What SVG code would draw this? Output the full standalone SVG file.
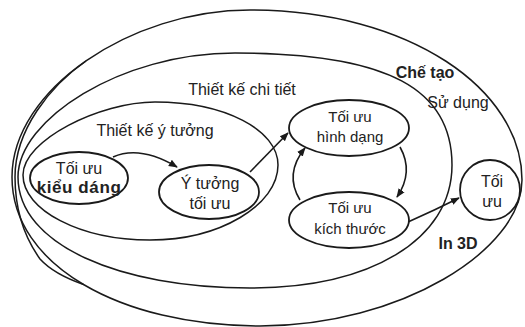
<svg xmlns="http://www.w3.org/2000/svg" width="525" height="327" viewBox="0 0 525 327">
<defs>
<marker id="ah" viewBox="0 0 10 10" refX="9" refY="5" markerWidth="9" markerHeight="9" markerUnits="userSpaceOnUse" orient="auto">
<path d="M0,1 L10,5 L0,9 Z" fill="#1a1a1a"/>
</marker>
</defs>
<style>
.reg{fill:none;stroke:#1a1a1a;stroke-width:1.5}
.node{fill:#fff;stroke:#1a1a1a;stroke-width:1.8}
.t{font-family:"Liberation Sans",Arial,sans-serif;font-size:16px;fill:#222;text-anchor:middle}
.s{font-size:15px}
.b{font-weight:bold}
.c{fill:none;stroke:#1a1a1a;stroke-width:1.6;marker-end:url(#ah)}
</style>
<rect width="525" height="327" fill="#fff"/>
<g id="regions">
<path id="che-tao" class="reg" d="M12,177 C12,90 130,10 250,10 C410,10 522,90 522,180 C522,250 400,326 260,326 C120,326 12,265 12,177 Z"/>
<path id="su-dung" class="reg" d="M86,61 C50,86 15,130 15,177 C15,220 30,245 40,259 C50,270 65,278 83.5,284.5"/>
<path id="thiet-ke-chi-tiet" class="reg" d="M18,177 C18,120 120,53 235,53 C390,53 452,90 452,165 C452,240 370,288 250,288 C120,288 18,245 18,177 Z"/>
<path id="thiet-ke-y-tuong" class="reg" d="M23,175 C23,140 100,102 155,102 C225,102 278,130 278,165 C278,205 220,240 150,240 C80,240 23,210 23,175 Z"/>
</g>
<g id="labels">
<text class="t" x="242" y="95">Thiết kế chi tiết</text>
<text class="t" x="155" y="136">Thiết kế ý tưởng</text>
<text class="t b" x="425" y="78">Chế tạo</text>
<text class="t" x="458" y="108">Sử dụng</text>
<text class="t b" x="458" y="249">In 3D</text>
</g>
<g id="connectors">
<path class="c" d="M113,157 Q140,145 177,167"/>
<path class="c" d="M250,172 L288,133"/>
<path class="c" d="M400,147 Q414,172 397,197"/>
<path class="c" d="M300,200 Q284,174 305,148"/>
<path class="c" d="M408,222 Q435,210 459,198"/>
</g>
<g id="n-kieu-dang">
<ellipse class="node" cx="79" cy="178" rx="49" ry="26"/>
<text class="t" x="79" y="174">Tối ưu</text>
<text class="t b" x="79" y="193" style="font-size:17px;letter-spacing:0.6px">kiểu dáng</text>
</g>
<g id="n-y-tuong">
<ellipse class="node" cx="209" cy="192" rx="50" ry="27"/>
<text class="t" x="210" y="189">Ý tưởng</text>
<text class="t" x="210" y="209">tối ưu</text>
</g>
<g id="n-hinh-dang">
<ellipse class="node" cx="349" cy="128" rx="60" ry="28"/>
<text class="t s" x="350" y="122">Tối ưu</text>
<text class="t s" x="350" y="142">hình dạng</text>
</g>
<g id="n-kich-thuoc">
<ellipse class="node" cx="349" cy="220" rx="60" ry="28"/>
<text class="t s" x="350" y="213">Tối ưu</text>
<text class="t s" x="350" y="234">kích thước</text>
</g>
<g id="n-toi-uu">
<circle class="node" cx="490" cy="190" r="30"/>
<text class="t" x="492" y="187">Tối</text>
<text class="t" x="492" y="207">ưu</text>
</g>
</svg>
